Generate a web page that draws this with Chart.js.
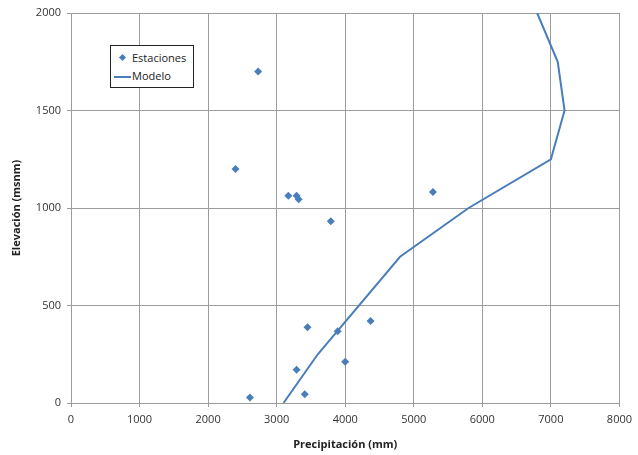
<!DOCTYPE html>
<html>
<head>
<meta charset="utf-8">
<script src="https://cdn.jsdelivr.net/npm/chart.js"></script>
<style>
  html, body { margin: 0; padding: 0; background: #fff; }
  #wrap { position: relative; width: 638px; height: 455px; }
  #legend {
    position: absolute; left: 110px; top: 45px; width: 84px; height: 43px;
    border: 1px solid #222; background: #fff; box-sizing: border-box;
    font: 11px "Open Sans", sans-serif; color: #222;
  }
  #legend .row { position: absolute; left: 0; height: 16px; line-height: 16px; }
  #legend .dia {
    position: absolute; left: 9px; top: 5px; width: 5px; height: 5px;
    background: #4a7ebb; transform: rotate(45deg);
  }
  #legend .ln {
    position: absolute; left: 3px; top: 8px; width: 17px; height: 2px; background: #4a7ebb;
  }
  #legend .lbl { position: absolute; left: 21px; top: 0; white-space: nowrap; }
</style>
</head>
<body>
<div id="wrap">
  <canvas id="chart" width="638" height="455"></canvas>
  <div id="legend">
    <div class="row" style="top:4px"><span class="dia"></span><span class="lbl">Estaciones</span></div>
    <div class="row" style="top:22px"><span class="ln"></span><span class="lbl">Modelo</span></div>
  </div>
</div>
<script>
// estaciones (precipitacion mm, elevacion msnm)
const stationPrecip = [2730, 2400, 3170, 3290, 3320, 3790, 5280, 2610, 3290, 3450, 3410, 3890, 4370, 4000];
const stationElev   = [1700, 1200, 1063, 1063, 1045, 932, 1082, 28, 171, 388, 45, 368, 420, 212];

// modelo
const modelPrecip = [3100, 3600, 4800, 5800, 7000, 7200, 7100, 6800];
const modelElev   = [0, 250, 750, 1000, 1250, 1500, 1750, 2000];

const xTicks = [0, 1000, 2000, 3000, 4000, 5000, 6000, 7000, 8000];
const yTicks = [0, 500, 1000, 1500, 2000];

const blue = '#4a7ebb';
const gridColor = '#9c9c9c';
const tickFont = { family: 'Open Sans', size: 11 };
const titleFont = { family: 'Open Sans', size: 11, weight: 'bold' };

new Chart(document.getElementById('chart'), {
    type: 'scatter',
    data: {
        datasets: [{
            label: 'Estaciones',
            data: stationPrecip.map((x, i) => ({ x: x, y: stationElev[i] })),
            pointStyle: 'rectRot',
            pointRadius: 4,
            backgroundColor: blue,
            borderColor: blue,
            borderWidth: 0,
            showLine: false
        }, {
            label: 'Modelo',
            data: modelPrecip.map((x, i) => ({ x: x, y: modelElev[i] })),
            showLine: true,
            borderColor: blue,
            borderWidth: 2,
            pointRadius: 0,
            fill: false,
            tension: 0
        }]
    },
    options: {
        responsive: false,
        animation: false,
        layout: { padding: { top: 13, right: 11, left: 0, bottom: 0 } },
        plugins: { legend: { display: false }, tooltip: { enabled: false } },
        scales: {
            x: {
                type: 'linear', min: 0, max: 8000,
                afterBuildTicks: s => { s.ticks = xTicks.map(v => ({ value: v })); },
                afterFit: s => { s.height = 52; },
                grid: { color: gridColor, lineWidth: 1, tickLength: 4, tickColor: gridColor },
                border: { color: gridColor },
                ticks: { font: tickFont, color: '#333', padding: 6, maxRotation: 0, callback: v => String(v) },
                title: { display: true, text: 'Precipitación (mm)', font: titleFont, color: '#222', padding: { top: 3 } }
            },
            y: {
                type: 'linear', min: 0, max: 2000,
                afterBuildTicks: s => { s.ticks = yTicks.map(v => ({ value: v })); },
                afterFit: s => { s.width = 71; },
                grid: { color: gridColor, lineWidth: 1, tickLength: 4, tickColor: gridColor },
                border: { color: gridColor },
                ticks: { font: tickFont, color: '#333', padding: 6, callback: v => String(v) },
                title: { display: true, text: 'Elevación (msnm)', font: titleFont, color: '#222', padding: { top: 10, bottom: 0 } }
            }
        }
    }
});
</script>
</body>
</html>
